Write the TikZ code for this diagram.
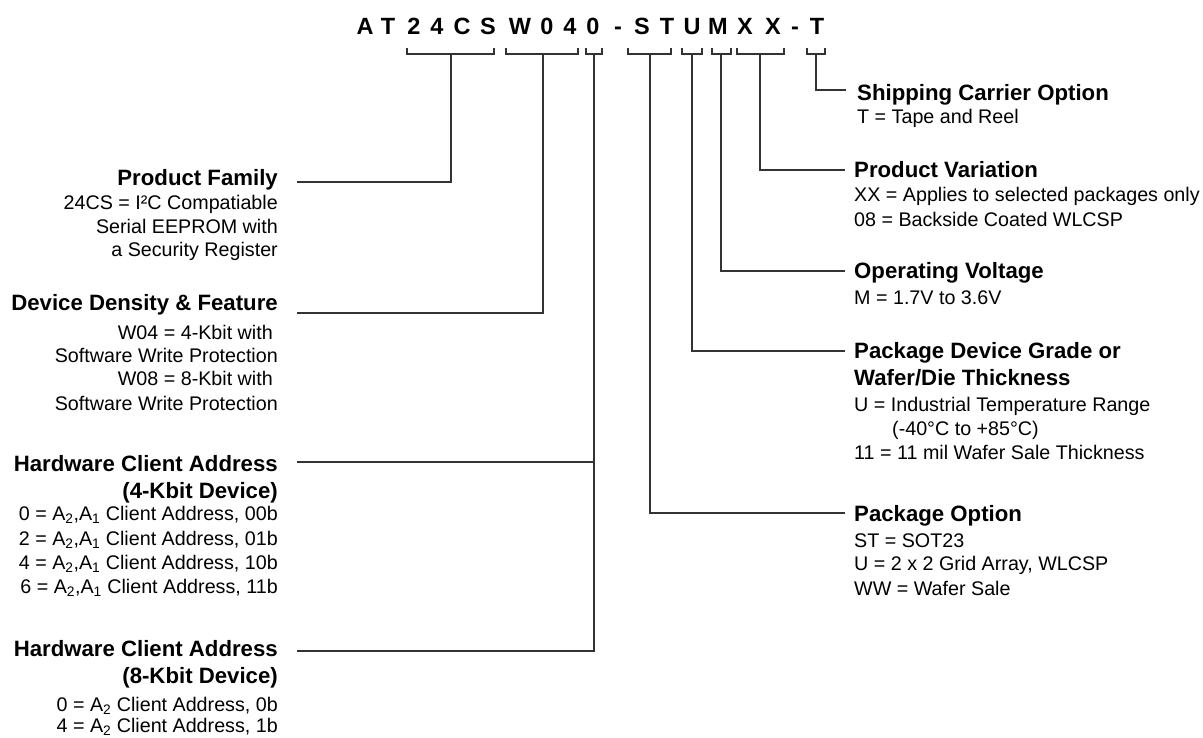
\documentclass[tikz,border=0pt]{standalone}
\usepackage{fontspec}
\setmainfont{Liberation Sans}
\begin{document}
\begin{tikzpicture}[x=1pt,y=-1pt,
  conn/.style={line width=1.3pt, black!80},
  pn/.style={font=\fontsize{23.5}{28}\selectfont\bfseries, inner sep=0pt, anchor=base},
  ttl/.style={font=\fontsize{22.2}{26}\selectfont\bfseries, inner sep=0pt},
  bdy/.style={font=\fontsize{19.7}{24}\selectfont, inner sep=0pt},
  lt/.style={anchor=base east},
  rt/.style={anchor=base west}]
\useasboundingbox (0,0) rectangle (1203,738);

% part number
\foreach \c/\x [count=\i] in {A/365,T/388,2/414,4/437,C/462,S/488,W/520,0/547,4/570,0/593,-/618,S/642,T/667,U/692,M/718,X/745,X/773,-/795,T/817}
  \node[pn] (pn\i) at (\x,35) {\c};

% brackets
\foreach \a/\b/\m [count=\n] in {407/494/451,506/578/543,586/602/594,628/671/650,682/702/692,712/731/721,737/784/760,807/825/816}{
  \draw[conn] (\a,48) -- (\a,54) -- (\b,54) -- (\b,48);
  \coordinate (bk\n) at (\m,54);
}

% ---------- left side ----------
\node[ttl,lt] (pf) at (278,186) {Product Family};
\node[bdy,lt] (pf1) at (278,210) {24CS = I²C Compatiable};
\node[bdy,lt] (pf2) at (278,234) {Serial EEPROM with};
\node[bdy,lt] (pf3) at (278,257) {a Security Register};

\node[ttl,lt] (dd) at (278,311) {Device Density \& Feature};
\node[bdy,lt] (dd1) at (273,339) {W04 = 4-Kbit with};
\node[bdy,lt] (dd2) at (278,362) {Software Write Protection};
\node[bdy,lt] (dd3) at (273,385) {W08 = 8-Kbit with};
\node[bdy,lt] (dd4) at (278,410) {Software Write Protection};

\node[ttl,lt] (hw4) at (278,471) {Hardware Client Address};
\node[ttl,lt] (hw4b) at (278,498) {(4-Kbit Device)};
\node[bdy,lt] (hw41) at (278,520) {0 = A\textsubscript{2},A\textsubscript{1} Client Address, 00b};
\node[bdy,lt] (hw42) at (278,545) {2 = A\textsubscript{2},A\textsubscript{1} Client Address, 01b};
\node[bdy,lt] (hw43) at (278,569) {4 = A\textsubscript{2},A\textsubscript{1} Client Address, 10b};
\node[bdy,lt] (hw44) at (278,593) {6 = A\textsubscript{2},A\textsubscript{1} Client Address, 11b};

\node[ttl,lt] (hw8) at (278,656) {Hardware Client Address};
\node[ttl,lt] (hw8b) at (278,683) {(8-Kbit Device)};
\node[bdy,lt] (hw81) at (278,711) {0 = A\textsubscript{2} Client Address, 0b};
\node[bdy,lt] (hw82) at (278,732) {4 = A\textsubscript{2} Client Address, 1b};

% ---------- right side ----------
\node[ttl,rt] (sc) at (857,101) {Shipping Carrier Option};
\node[bdy,rt] (sc1) at (857,124) {T = Tape and Reel};

\node[ttl,rt] (pv) at (854,178) {Product Variation};
\node[bdy,rt] (pv1) at (854,202) {XX = Applies to selected packages only};
\node[bdy,rt] (pv2) at (854,227) {08 = Backside Coated WLCSP};

\node[ttl,rt] (ov) at (854,279) {Operating Voltage};
\node[bdy,rt] (ov1) at (854,305) {M = 1.7V to 3.6V};

\node[ttl,rt] (pg) at (854,359) {Package Device Grade or};
\node[ttl,rt] (pgb) at (854,385) {Wafer/Die Thickness};
\node[bdy,rt] (pg1) at (854,411) {U = Industrial Temperature Range};
\node[bdy,rt] (pg2) at (892,435) {(-40°C to +85°C)};
\node[bdy,rt] (pg3) at (854,459) {11 = 11 mil Wafer Sale Thickness};

\node[ttl,rt] (po) at (854,521) {Package Option};
\node[bdy,rt] (po1) at (854,547) {ST = SOT23};
\node[bdy,rt] (po2) at (854,570) {U = 2 x 2 Grid Array, WLCSP};
\node[bdy,rt] (po3) at (854,595) {WW = Wafer Sale};

% ---------- connectors ----------
\coordinate (pfe) at (297,182);
\coordinate (dde) at (297,313);
\coordinate (hwj) at (594,462);
\coordinate (hw4e) at (297,462);
\coordinate (hw8e) at (297,651);
\coordinate (poe) at (845,513);
\coordinate (pge) at (845,351);
\coordinate (ove) at (845,271);
\coordinate (pve) at (845,170);
\coordinate (sce) at (846,90);

\draw[conn] (bk1) |- (pfe);
\draw[conn] (bk2) |- (dde);
\draw[conn] (bk3) |- (hw8e);
\draw[conn] (hwj) -- (hw4e);
\draw[conn] (bk4) |- (poe);
\draw[conn] (bk5) |- (pge);
\draw[conn] (bk6) |- (ove);
\draw[conn] (bk7) |- (pve);
\draw[conn] (bk8) |- (sce);
\end{tikzpicture}
\end{document}
